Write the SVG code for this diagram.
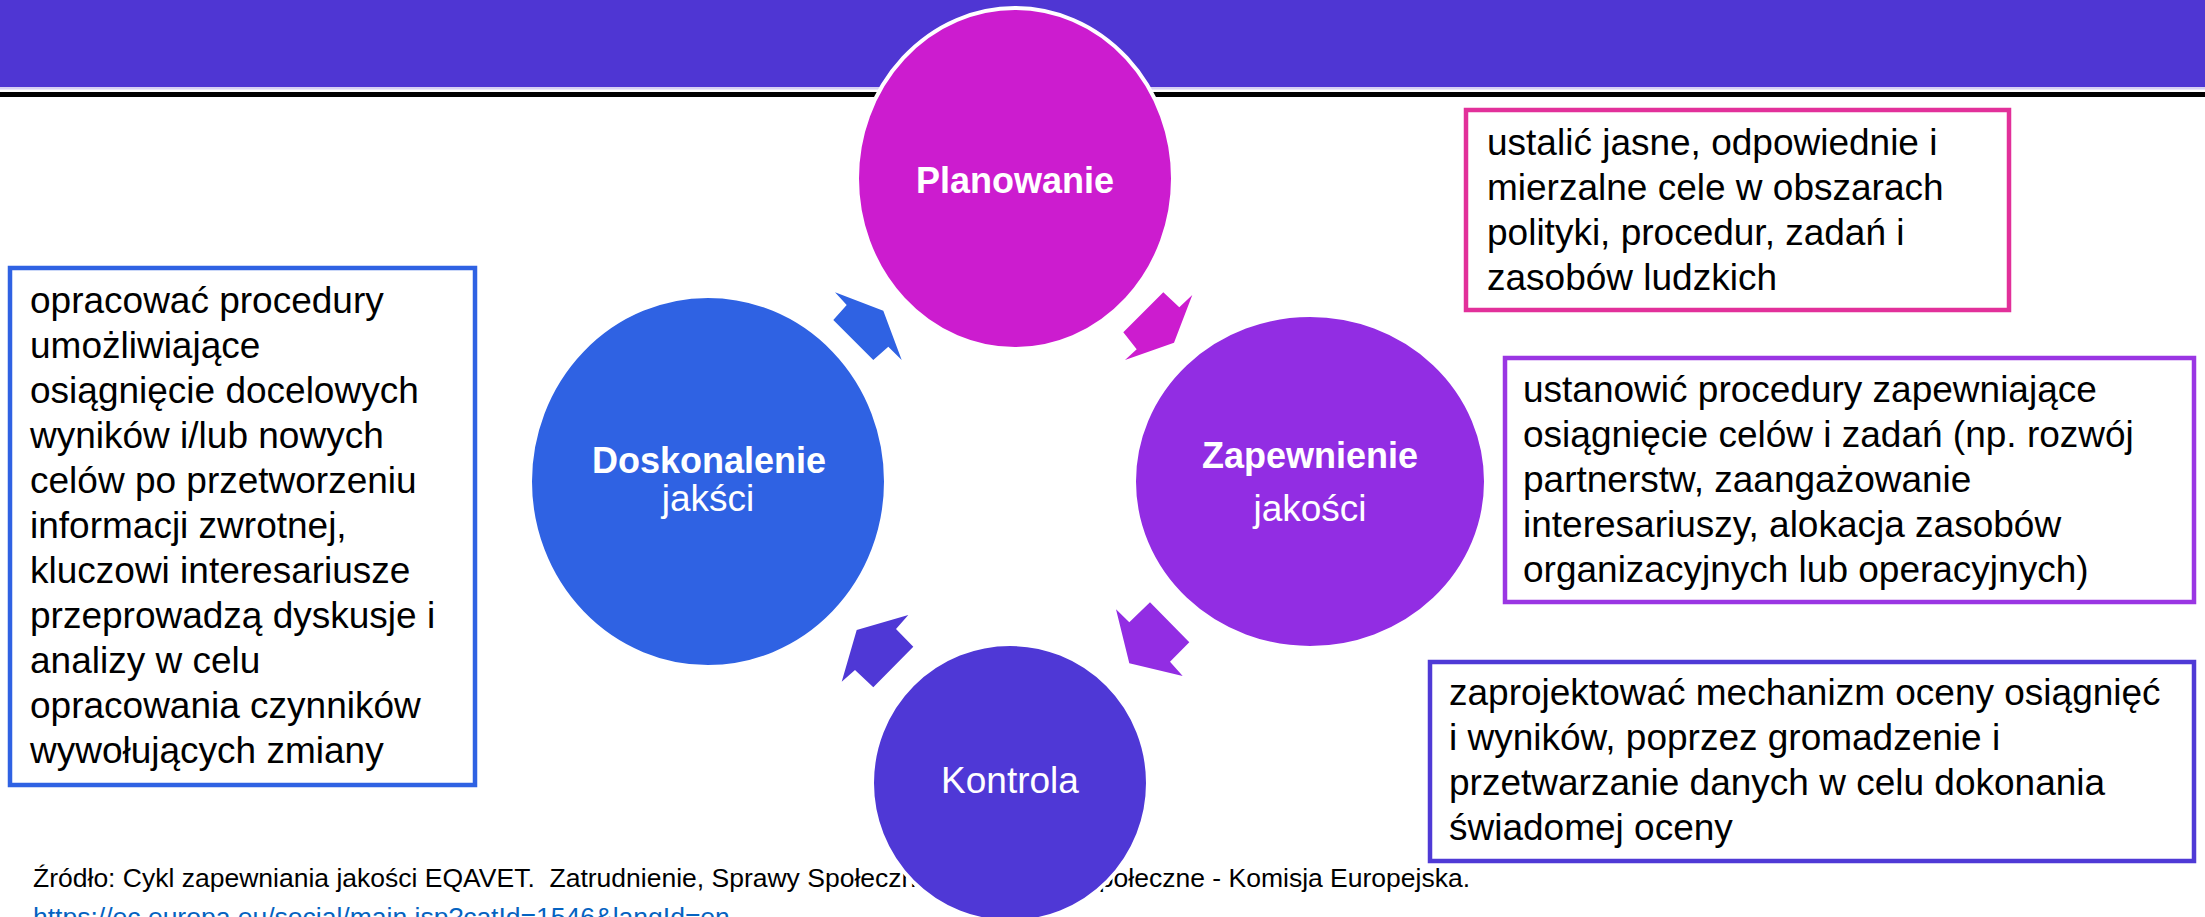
<svg xmlns="http://www.w3.org/2000/svg" width="2205" height="917" viewBox="0 0 2205 917">
<style>
.t{font-family:"Liberation Sans",Arial,sans-serif;font-size:37px;fill:#000}
.c{font-family:"Liberation Sans",Arial,sans-serif;fill:#fff;text-anchor:middle}
.b{font-weight:bold;font-size:36px}
.r{font-size:37px}
.box{fill:#fff;stroke-width:4.5}
.circ{stroke:#fff;stroke-width:4}
.foot{font-family:"Liberation Sans",Arial,sans-serif;font-size:26.5px;fill:#000}
.link{fill:#0563C1;text-decoration:underline}
</style>
<rect width="2205" height="917" fill="#fff"/>
<g id="header">
<rect x="0" y="0" width="2205" height="87" fill="#4F36D3"/>
<rect x="0" y="87" width="2205" height="2.5" fill="#D6D0F4"/>
<rect x="0" y="92" width="2205" height="5" fill="#000"/>
</g>
<g id="footer">
<text class="foot" x="33" y="887">Źródło: Cykl zapewniania jakości EQAVET.&#160; Zatrudnienie, Sprawy Społeczne i Włączenie Społeczne - Komisja Europejska.</text>
<text class="foot link" x="33" y="926">https://ec.europa.eu/social/main.jsp?catId=1546&amp;langId=en</text>
</g>
<g id="connectors">
<polygon fill="#2F62E3" points="835,292.3 883.3,310.7 901.7,360 888.3,346.7 873.3,360 833.3,320 846.7,305"/>
<polygon fill="#CC1CCF" points="1163.3,292.3 1179.3,307.3 1192.3,295 1174,342.7 1125,360 1136.7,349.3 1123.3,332.3"/>
<polygon fill="#922DE3" points="1116,609.3 1129.3,622.3 1150,602.3 1189.3,642.3 1170,661.7 1182.7,676 1129.3,663.3"/>
<polygon fill="#4F38D6" points="908.3,615 896,629 913.3,646.7 873.3,687.3 855,670 841.7,681.7 856.7,630"/>
</g>
<g id="planowanie">
<ellipse class="circ" cx="1015" cy="178.5" rx="158" ry="170.5" fill="#CC1CCF"/>
<text class="c b" x="1015" y="193">Planowanie</text>
</g>
<g id="zapewnienie">
<ellipse class="circ" cx="1310" cy="481.5" rx="176" ry="166.5" fill="#922DE3"/>
<text class="c b" x="1310" y="468">Zapewnienie</text>
<text class="c r" x="1310" y="521">jakości</text>
</g>
<g id="kontrola">
<ellipse class="circ" cx="1010" cy="783" rx="138" ry="139" fill="#4F38D6"/>
<text class="c r" x="1010" y="793">Kontrola</text>
</g>
<g id="doskonalenie">
<ellipse class="circ" cx="708" cy="481.5" rx="178" ry="185.5" fill="#2F62E3"/>
<text class="c b" x="709" y="473">Doskonalenie</text>
<text class="c r" x="708" y="511">jakści</text>
</g>
<g id="box-planowanie">
<rect class="box" x="1466" y="110" width="543" height="200" stroke="#E2309A"/>
<text class="t" x="1487" y="155">ustalić jasne, odpowiednie i</text>
<text class="t" x="1487" y="200">mierzalne cele w obszarach</text>
<text class="t" x="1487" y="245">polityki, procedur, zadań i</text>
<text class="t" x="1487" y="290">zasobów ludzkich</text>
</g>
<g id="box-zapewnienie">
<rect class="box" x="1505" y="358" width="689" height="244" stroke="#9A36E3"/>
<text class="t" x="1523" y="402">ustanowić procedury zapewniające</text>
<text class="t" x="1523" y="447">osiągnięcie celów i zadań (np. rozwój</text>
<text class="t" x="1523" y="492">partnerstw, zaangażowanie</text>
<text class="t" x="1523" y="537">interesariuszy, alokacja zasobów</text>
<text class="t" x="1523" y="582">organizacyjnych lub operacyjnych)</text>
</g>
<g id="box-kontrola">
<rect class="box" x="1430" y="662" width="764" height="199" stroke="#4F3AD6"/>
<text class="t" x="1449" y="705">zaprojektować mechanizm oceny osiągnięć</text>
<text class="t" x="1449" y="750">i wyników, poprzez gromadzenie i</text>
<text class="t" x="1449" y="795">przetwarzanie danych w celu dokonania</text>
<text class="t" x="1449" y="840">świadomej oceny</text>
</g>
<g id="box-doskonalenie">
<rect class="box" x="10" y="268" width="465" height="517" stroke="#2F62E3"/>
<text class="t" x="30" y="313">opracować procedury</text>
<text class="t" x="30" y="358">umożliwiające</text>
<text class="t" x="30" y="403">osiągnięcie docelowych</text>
<text class="t" x="30" y="448">wyników i/lub nowych</text>
<text class="t" x="30" y="493">celów po przetworzeniu</text>
<text class="t" x="30" y="538">informacji zwrotnej,</text>
<text class="t" x="30" y="583">kluczowi interesariusze</text>
<text class="t" x="30" y="628">przeprowadzą dyskusje i</text>
<text class="t" x="30" y="673">analizy w celu</text>
<text class="t" x="30" y="718">opracowania czynników</text>
<text class="t" x="30" y="763">wywołujących zmiany</text>
</g>
</svg>
